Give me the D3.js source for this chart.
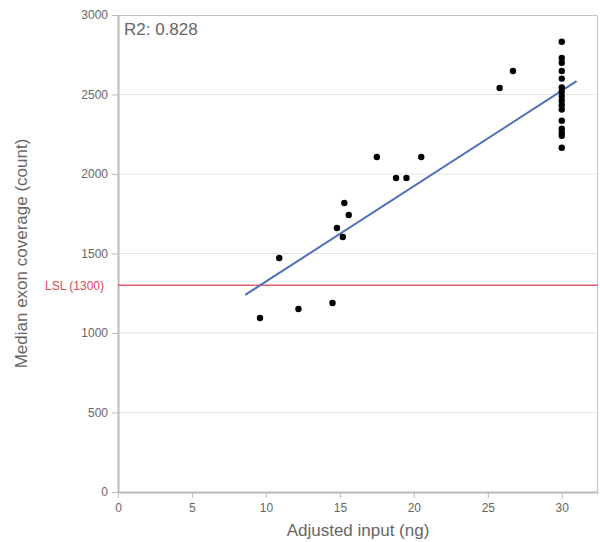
<!DOCTYPE html>
<html>
<head>
<meta charset="utf-8">
<script src="https://cdn.jsdelivr.net/npm/d3@7"></script>
<style>
  body { margin: 0; background: #fff; }
  text { font-family: "Liberation Sans", Arial, sans-serif; }
</style>
</head>
<body>
<script>
// data
const inputNg = [9.6, 10.9, 12.2, 14.5, 14.8, 15.3, 15.2, 15.6, 17.5, 18.8, 19.5, 20.5, 25.8, 26.7,
  30, 30, 30, 30, 30, 30, 30, 30, 30, 30, 30, 30, 30, 30, 30, 30];
const coverage = [1094, 1472, 1151, 1189, 1660, 1818, 1604, 1742, 2107, 1975, 1975, 2107, 2541, 2648,
  2832, 2730, 2700, 2648, 2600, 2545, 2518, 2490, 2462, 2432, 2405, 2335, 2285, 2260, 2240, 2165];
const xTicks = [0, 5, 10, 15, 20, 25, 30];
const yTicks = [0, 500, 1000, 1500, 2000, 2500, 3000];
const lsl = 1300;
const r2Label = 'R2: 0.828';

const width = 600;
const height = 542;
const margin = { top: 15, right: 2, bottom: 50, left: 118 };
const w = width - margin.left - margin.right;
const h = height - margin.top - margin.bottom;

const svg = d3.select('body').append('svg')
  .attr('width', width)
  .attr('height', height);

const g = svg.append('g')
  .attr('transform', `translate(${margin.left},${margin.top})`);

const x = d3.scaleLinear().domain([0, 32.45]).range([0, w]);
const y = d3.scaleLinear().domain([0, 3000]).range([h, 0]);

// horizontal grid
g.selectAll('.grid')
  .data(yTicks.slice(1, -1))
  .enter().append('line')
  .attr('x1', 0).attr('x2', w)
  .attr('y1', d => y(d)).attr('y2', d => y(d))
  .attr('stroke', '#e3e3e3')
  .attr('stroke-width', 1);

// frame top + right
g.append('path')
  .attr('d', `M0,0.5H${w - 0.5}V${h}`)
  .attr('fill', 'none')
  .attr('stroke', '#c4c4c4');

const xAxis = g.append('g')
  .attr('transform', `translate(0,${h})`)
  .call(d3.axisBottom(x).tickValues(xTicks).tickFormat(d3.format('d'))
    .tickSize(6).tickPadding(5).tickSizeOuter(0));
const yAxis = g.append('g')
  .call(d3.axisLeft(y).tickValues(yTicks).tickFormat(d3.format('d'))
    .tickSize(6).tickPadding(4).tickSizeOuter(0));

[xAxis, yAxis].forEach(a => {
  a.select('.domain').attr('stroke', '#bbb').attr('stroke-width', 2);
  a.selectAll('.tick line').attr('stroke', '#bbb');
  a.selectAll('.tick text')
    .attr('fill', '#666')
    .style('font-size', '12px')
    .style('font-family', '"Liberation Sans", Arial, sans-serif');
});

// LSL line
g.append('line')
  .attr('x1', 0).attr('x2', w)
  .attr('y1', y(lsl)).attr('y2', y(lsl))
  .attr('stroke', '#dd5c6c')
  .attr('stroke-width', 1.5);
g.append('text')
  .attr('x', -14)
  .attr('y', y(lsl))
  .attr('dy', '0.35em')
  .attr('text-anchor', 'end')
  .attr('fill', '#d9475a')
  .style('font-size', '12px')
  .text(`LSL (${lsl})`);

// least squares fit
const n = inputNg.length;
const mx = d3.mean(inputNg);
const my = d3.mean(coverage);
let sxy = 0, sxx = 0;
for (let i = 0; i < n; i += 1) {
  sxy += (inputNg[i] - mx) * (coverage[i] - my);
  sxx += (inputNg[i] - mx) * (inputNg[i] - mx);
}
const slope = sxy / sxx;
const intercept = my - slope * mx;
const x0 = d3.min(inputNg) - 1;
const x1 = d3.max(inputNg) + 1;

g.append('line')
  .attr('x1', x(x0)).attr('y1', y(intercept + slope * x0))
  .attr('x2', x(x1)).attr('y2', y(intercept + slope * x1))
  .attr('stroke', '#4f6fb8')
  .attr('stroke-width', 2);

// points
g.selectAll('.dot')
  .data(inputNg.map((d, i) => [d, coverage[i]]))
  .enter().append('circle')
  .attr('cx', d => x(d[0]))
  .attr('cy', d => y(d[1]))
  .attr('r', 3.2)
  .attr('fill', '#000');

// R2 label
g.append('text')
  .attr('x', 6)
  .attr('y', 20)
  .attr('fill', '#666')
  .style('font-size', '17px')
  .text(r2Label);

// axis titles
svg.append('text')
  .attr('x', 358)
  .attr('y', 536)
  .attr('text-anchor', 'middle')
  .attr('fill', '#666')
  .style('font-size', '17px')
  .text('Adjusted input (ng)');

svg.append('text')
  .attr('transform', `translate(27,${margin.top + h / 2}) rotate(-90)`)
  .attr('text-anchor', 'middle')
  .attr('fill', '#666')
  .style('font-size', '17px')
  .text('Median exon coverage (count)');
</script>
</body>
</html>
